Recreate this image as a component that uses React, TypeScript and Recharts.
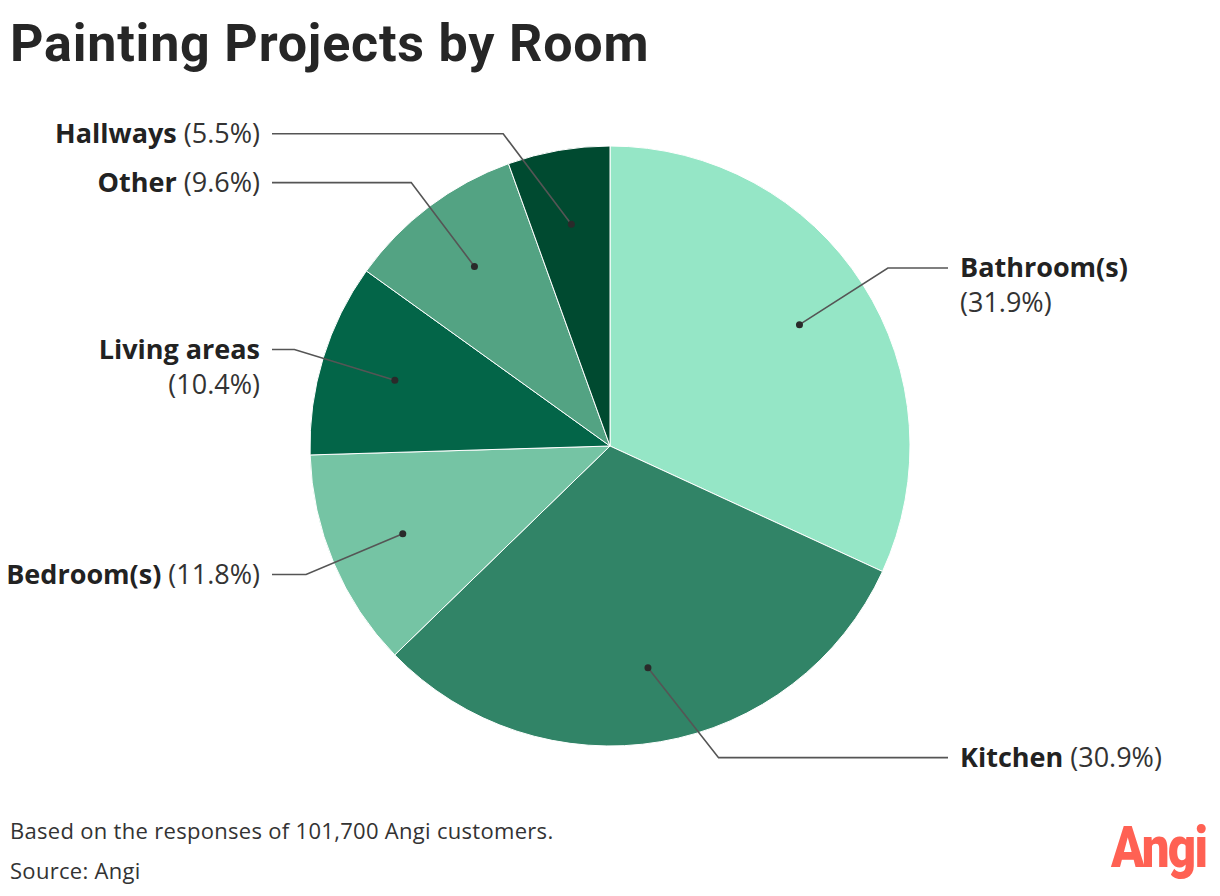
import React from "react";
import { PieChart, Pie, Cell } from "recharts";

const rooms = ["Bathroom(s)", "Kitchen", "Bedroom(s)", "Living areas", "Other", "Hallways"];
const shares = [31.9, 30.9, 11.8, 10.4, 9.6, 5.5];
const colors = ["#95e6c6", "#318467", "#75c4a4", "#036548", "#53a383", "#004a30"];
const splitLabel = [true, false, false, true, false, false];
const elbowAngleOffset = [0, 9.5, 0, 0, 0, 9];

const data = rooms.map((name, i) => ({ name, value: shares[i] }));

const RAD = Math.PI / 180;
const FONT = "Roboto, 'Open Sans', sans-serif";
const LFONT = "'Open Sans', Roboto, sans-serif";

const renderLabel = (props: any) => {
  const { cx, cy, midAngle, outerRadius, index } = props;
  const dotR = outerRadius * 0.75;
  const elbowR = outerRadius * 1.1;
  const a = midAngle;
  const dx = cx + dotR * Math.cos(a * RAD);
  const dy = cy - dotR * Math.sin(a * RAD);
  const ea = a + elbowAngleOffset[index];
  const ex = cx + elbowR * Math.cos(ea * RAD);
  const ey = cy - elbowR * Math.sin(ea * RAD);
  const right = ex > cx;
  const lineEnd = right ? cx + 338 : cx - 338;
  const textX = right ? cx + 350 : cx - 350;
  const anchor = right ? "start" : "end";
  const name = rooms[index];
  const pct = `(${shares[index].toFixed(1)}%)`;
  const base = ey + 9;
  return (
    <g key={`lab-${index}`}>
      <polyline
        points={`${dx},${dy} ${ex},${ey} ${lineEnd},${ey}`}
        fill="none"
        stroke="#555"
        strokeWidth={1.6}
      />
      <circle cx={dx} cy={dy} r={3.5} fill="#2a2a2a" />
      {splitLabel[index] ? (
        <text x={textX} y={base} textAnchor={anchor} fontFamily={LFONT} fontSize={27} fill="#222">
          <tspan x={textX} fontWeight={700}>{name}</tspan>
          <tspan x={textX} dy={35} fontWeight={400} fill="#333">{pct}</tspan>
        </text>
      ) : (
        <text x={textX} y={base} textAnchor={anchor} fontFamily={LFONT} fontSize={27} fill="#222">
          <tspan fontWeight={700}>{name}</tspan>
          <tspan fontWeight={400} fill="#333">{" " + pct}</tspan>
        </text>
      )}
    </g>
  );
};

export default function App() {
  return (
    <div style={{ position: "relative", width: 1220, height: 896, background: "#fff", fontFamily: FONT }}>
      <style>{"body{margin:0;}"}</style>
      <div
        style={{
          position: "absolute",
          left: 10,
          top: 12,
          fontSize: 52,
          fontWeight: 700,
          color: "#262626",
          letterSpacing: 0.8,
          lineHeight: "64px",
          whiteSpace: "nowrap",
        }}
      >
        Painting Projects by Room
      </div>
      <div style={{ position: "absolute", left: 0, top: 0 }}>
        <PieChart width={1220} height={896} margin={{ top: 0, right: 0, bottom: 0, left: 0 }}>
          <Pie
            data={data}
            dataKey="value"
            nameKey="name"
            cx={610}
            cy={446}
            outerRadius={300}
            startAngle={90}
            endAngle={-270}
            stroke="#ffffff"
            strokeWidth={1}
            label={renderLabel}
            labelLine={false}
            isAnimationActive={false}
          >
            {data.map((d, i) => (
              <Cell key={d.name} fill={colors[i]} />
            ))}
          </Pie>
        </PieChart>
      </div>
      <div style={{ position: "absolute", left: 10, top: 815, fontSize: 22, letterSpacing: 0.3, fontFamily: LFONT, color: "#333", lineHeight: "30px", whiteSpace: "nowrap" }}>
        Based on the responses of 101,700 Angi customers.
      </div>
      <div style={{ position: "absolute", left: 10, top: 855, fontSize: 22, letterSpacing: 0.3, fontFamily: LFONT, color: "#333", lineHeight: "30px" }}>
        Source: Angi
      </div>
      <div
        style={{
          position: "absolute",
          left: 1111,
          top: 812,
          fontSize: 58,
          fontWeight: 900,
          color: "#ff6153",
          letterSpacing: -2,
          lineHeight: "70px",
          transform: "scaleX(0.85)",
          transformOrigin: "left",
        }}
      >
        Angi
      </div>
    </div>
  );
}
